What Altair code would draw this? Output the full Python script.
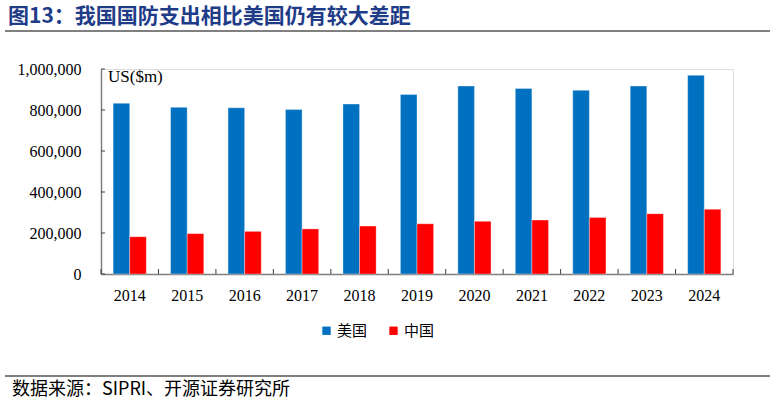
import altair as alt
import pandas as pd

# Military expenditure, US$ million
years = ["2014", "2015", "2016", "2017", "2018", "2019", "2020", "2021", "2022", "2023", "2024"]
us_spend = [833000, 813000, 811000, 803000, 829000, 876000, 917000, 905000, 896000, 917000, 969000]
cn_spend = [182000, 197000, 208000, 220000, 234000, 245000, 257000, 263000, 276000, 294000, 316000]
series_names = ["美国", "中国"]
series_colors = ["#0070C0", "#FF0000"]
y_ticks = [0, 200000, 400000, 600000, 800000, 1000000]

title_text = "图13：我国国防支出相比美国仍有较大差距"
source_text = "数据来源：SIPRI、开源证券研究所"
unit_text = "US($m)"

W, H = 632, 205
SERIF = "Liberation Serif"
CJK = "Noto Sans CJK SC"
AXIS_GREY = "#7F7F7F"

rows = []
for yr, u, c in zip(years, us_spend, cn_spend):
    rows.append({"year": yr, "country": series_names[0], "value": u})
    rows.append({"year": yr, "country": series_names[1], "value": c})
df = pd.DataFrame(rows)

x_scale = alt.Scale(domain=years, paddingInner=0, paddingOuter=0)
y_scale = alt.Scale(domain=[0, 1000000], nice=False)

x_axis = alt.Axis(labelAngle=0, ticks=False, domainColor=AXIS_GREY, domainWidth=1.5,
                  labelFont=SERIF, labelFontSize=16, labelColor="black", labelPadding=13)
y_axis = alt.Axis(values=y_ticks, labelExpr="format(datum.value, ',')", ticks=False, grid=False,
                  domainColor=AXIS_GREY, domainWidth=1.5,
                  labelFont=SERIF, labelFontSize=16, labelColor="black", labelPadding=20)

bars = alt.Chart(df).mark_bar(stroke="white", strokeWidth=1, strokeOpacity=0.35).encode(
    x=alt.X("year:N", scale=x_scale, sort=years, title=None, axis=x_axis),
    xOffset=alt.XOffset("country:N", sort=series_names,
                        scale=alt.Scale(paddingOuter=0.73, paddingInner=0)),
    y=alt.Y("value:Q", scale=y_scale, title=None, axis=y_axis),
    color=alt.Color("country:N", sort=series_names,
                    scale=alt.Scale(domain=series_names, range=series_colors),
                    legend=alt.Legend(title=None, orient="none", direction="horizontal",
                                      legendX=218, legendY=254, symbolType="square",
                                      symbolSize=70, symbolStrokeWidth=0, labelFont=CJK,
                                      labelFontSize=15, labelColor="black", labelOffset=3,
                                      columnPadding=18)),
)

# inward tick marks on the value axis
ytick_df = pd.DataFrame({"value": y_ticks})
y_tick_marks = alt.Chart(ytick_df).mark_rule(color="#404040", strokeWidth=1).encode(
    y=alt.Y("value:Q", scale=y_scale, title=None, axis=y_axis),
    x=alt.value(0), x2=alt.value(4),
)

# inward tick marks at category boundaries
year_df = pd.DataFrame({"year": years})
x_tick_marks = alt.Chart(year_df).mark_rule(color="#404040", strokeWidth=1).encode(
    x=alt.X("year:N", scale=x_scale, sort=years, bandPosition=0, title=None, axis=x_axis),
    y=alt.value(H - 5), y2=alt.value(H),
)
x_tick_end = alt.Chart(year_df).transform_filter(
    alt.datum.year == years[-1]
).mark_rule(color="#404040", strokeWidth=1).encode(
    x=alt.X("year:N", scale=x_scale, sort=years, bandPosition=1, title=None, axis=x_axis),
    y=alt.value(H - 5), y2=alt.value(H),
)

one = alt.Data(values=[{}])

unit_label = alt.Chart(one).mark_text(
    text=unit_text, font=SERIF, fontSize=17, color="black", align="left", baseline="middle"
).encode(x=alt.value(7), y=alt.value(8))

title_mark = alt.Chart(one).mark_text(
    text=title_text, font=CJK, fontSize=21, fontWeight="bold", color="#1F3C88",
    align="left", baseline="middle"
).encode(x=alt.value(-93), y=alt.value(-52))

top_line = alt.Chart(one).mark_rule(color="black", strokeWidth=1).encode(
    x=alt.value(-96), x2=alt.value(669), y=alt.value(-38)
)
bottom_line = alt.Chart(one).mark_rule(color="black", strokeWidth=1).encode(
    x=alt.value(-96), x2=alt.value(669), y=alt.value(307)
)

source_mark = alt.Chart(one).mark_text(
    text=source_text, font=CJK, fontSize=18, color="black", align="left", baseline="middle"
).encode(x=alt.value(-89), y=alt.value(321))

chart = alt.layer(
    bars, y_tick_marks, x_tick_marks, x_tick_end, unit_label,
    title_mark, top_line, bottom_line, source_mark
).properties(
    width=W, height=H,
    autosize=alt.AutoSizeParams(type="none"),
    padding={"left": 101, "top": 69, "right": 41, "bottom": 132},
).configure_view(strokeWidth=0).configure(background="white")

chart.save("out.html", embed_options={"renderer": "svg", "actions": False})
